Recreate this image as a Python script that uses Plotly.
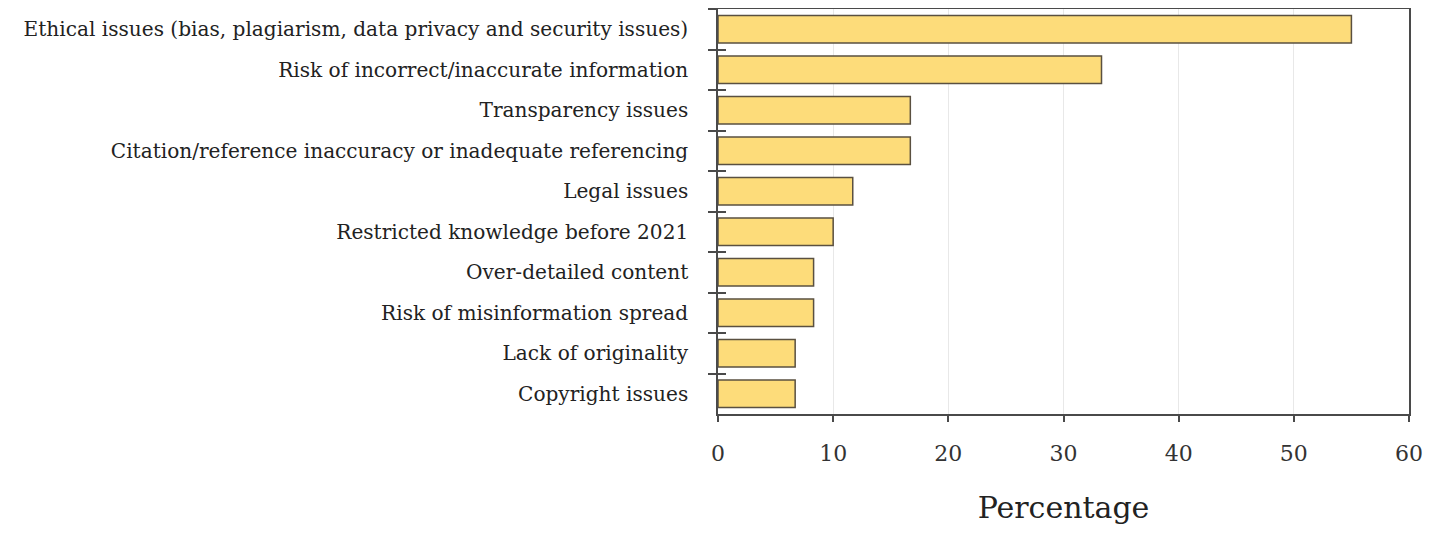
import plotly.graph_objects as go

categories = [
    "Ethical issues (bias, plagiarism, data privacy and security issues)",
    "Risk of incorrect/inaccurate information",
    "Transparency issues",
    "Citation/reference inaccuracy or inadequate referencing",
    "Legal issues",
    "Restricted knowledge before 2021",
    "Over-detailed content",
    "Risk of misinformation spread",
    "Lack of originality",
    "Copyright issues",
]
percentages = [55.0, 33.3, 16.7, 16.7, 11.7, 10.0, 8.3, 8.3, 6.7, 6.7]
x_ticks = [0, 10, 20, 30, 40, 50, 60]

FONT = "DejaVu Serif"
AX = "#4a4a4a"

fig = go.Figure()
fig.add_trace(go.Bar(
    y=categories, x=percentages, orientation="h",
    marker=dict(color="#FDDC7A", line=dict(color="#5a5040", width=1.5)),
    width=0.68,
))
# helper trace (draws nothing) so the overlaid axis renders its inward ticks
fig.add_trace(go.Scatter(
    y=categories, x=percentages, mode="none", yaxis="y2",
    hoverinfo="skip", showlegend=False,
))

fig.update_layout(
    width=1442, height=533,
    margin=dict(l=710, r=41, t=1, b=127),
    paper_bgcolor="white", plot_bgcolor="white",
    showlegend=False,
    font=dict(family=FONT, color="#222", size=20),
    xaxis=dict(
        range=[0, 60], tickvals=x_ticks, ticks="outside", ticklen=6, tickwidth=1.5,
        tickcolor=AX, showline=True, linecolor=AX, linewidth=1.5, mirror=True,
        showgrid=True, gridcolor="#e8e8e8", gridwidth=1, zeroline=False,
        tickfont=dict(size=22, family=FONT, color="#333"),
        ticklabelstandoff=13, automargin=False,
        title=dict(text="Percentage", font=dict(size=30, family=FONT, color="#222"), standoff=32),
    ),
    yaxis=dict(
        autorange="reversed", tickson="boundaries", ticks="outside", ticklen=8, tickwidth=1.5,
        tickcolor=AX, showline=True, linecolor=AX, linewidth=1.5, mirror=True,
        showgrid=False, tickfont=dict(size=20.1, family=FONT, color="#222"),
        ticklabelstandoff=24, automargin=False,
    ),
    yaxis2=dict(
        matches="y", overlaying="y", side="left", tickson="boundaries",
        ticks="inside", ticklen=8, tickwidth=1.5, tickcolor=AX,
        showticklabels=False, showgrid=False, showline=False, automargin=False,
    ),
    bargap=0.3,
)

fig.write_html("out.html")
